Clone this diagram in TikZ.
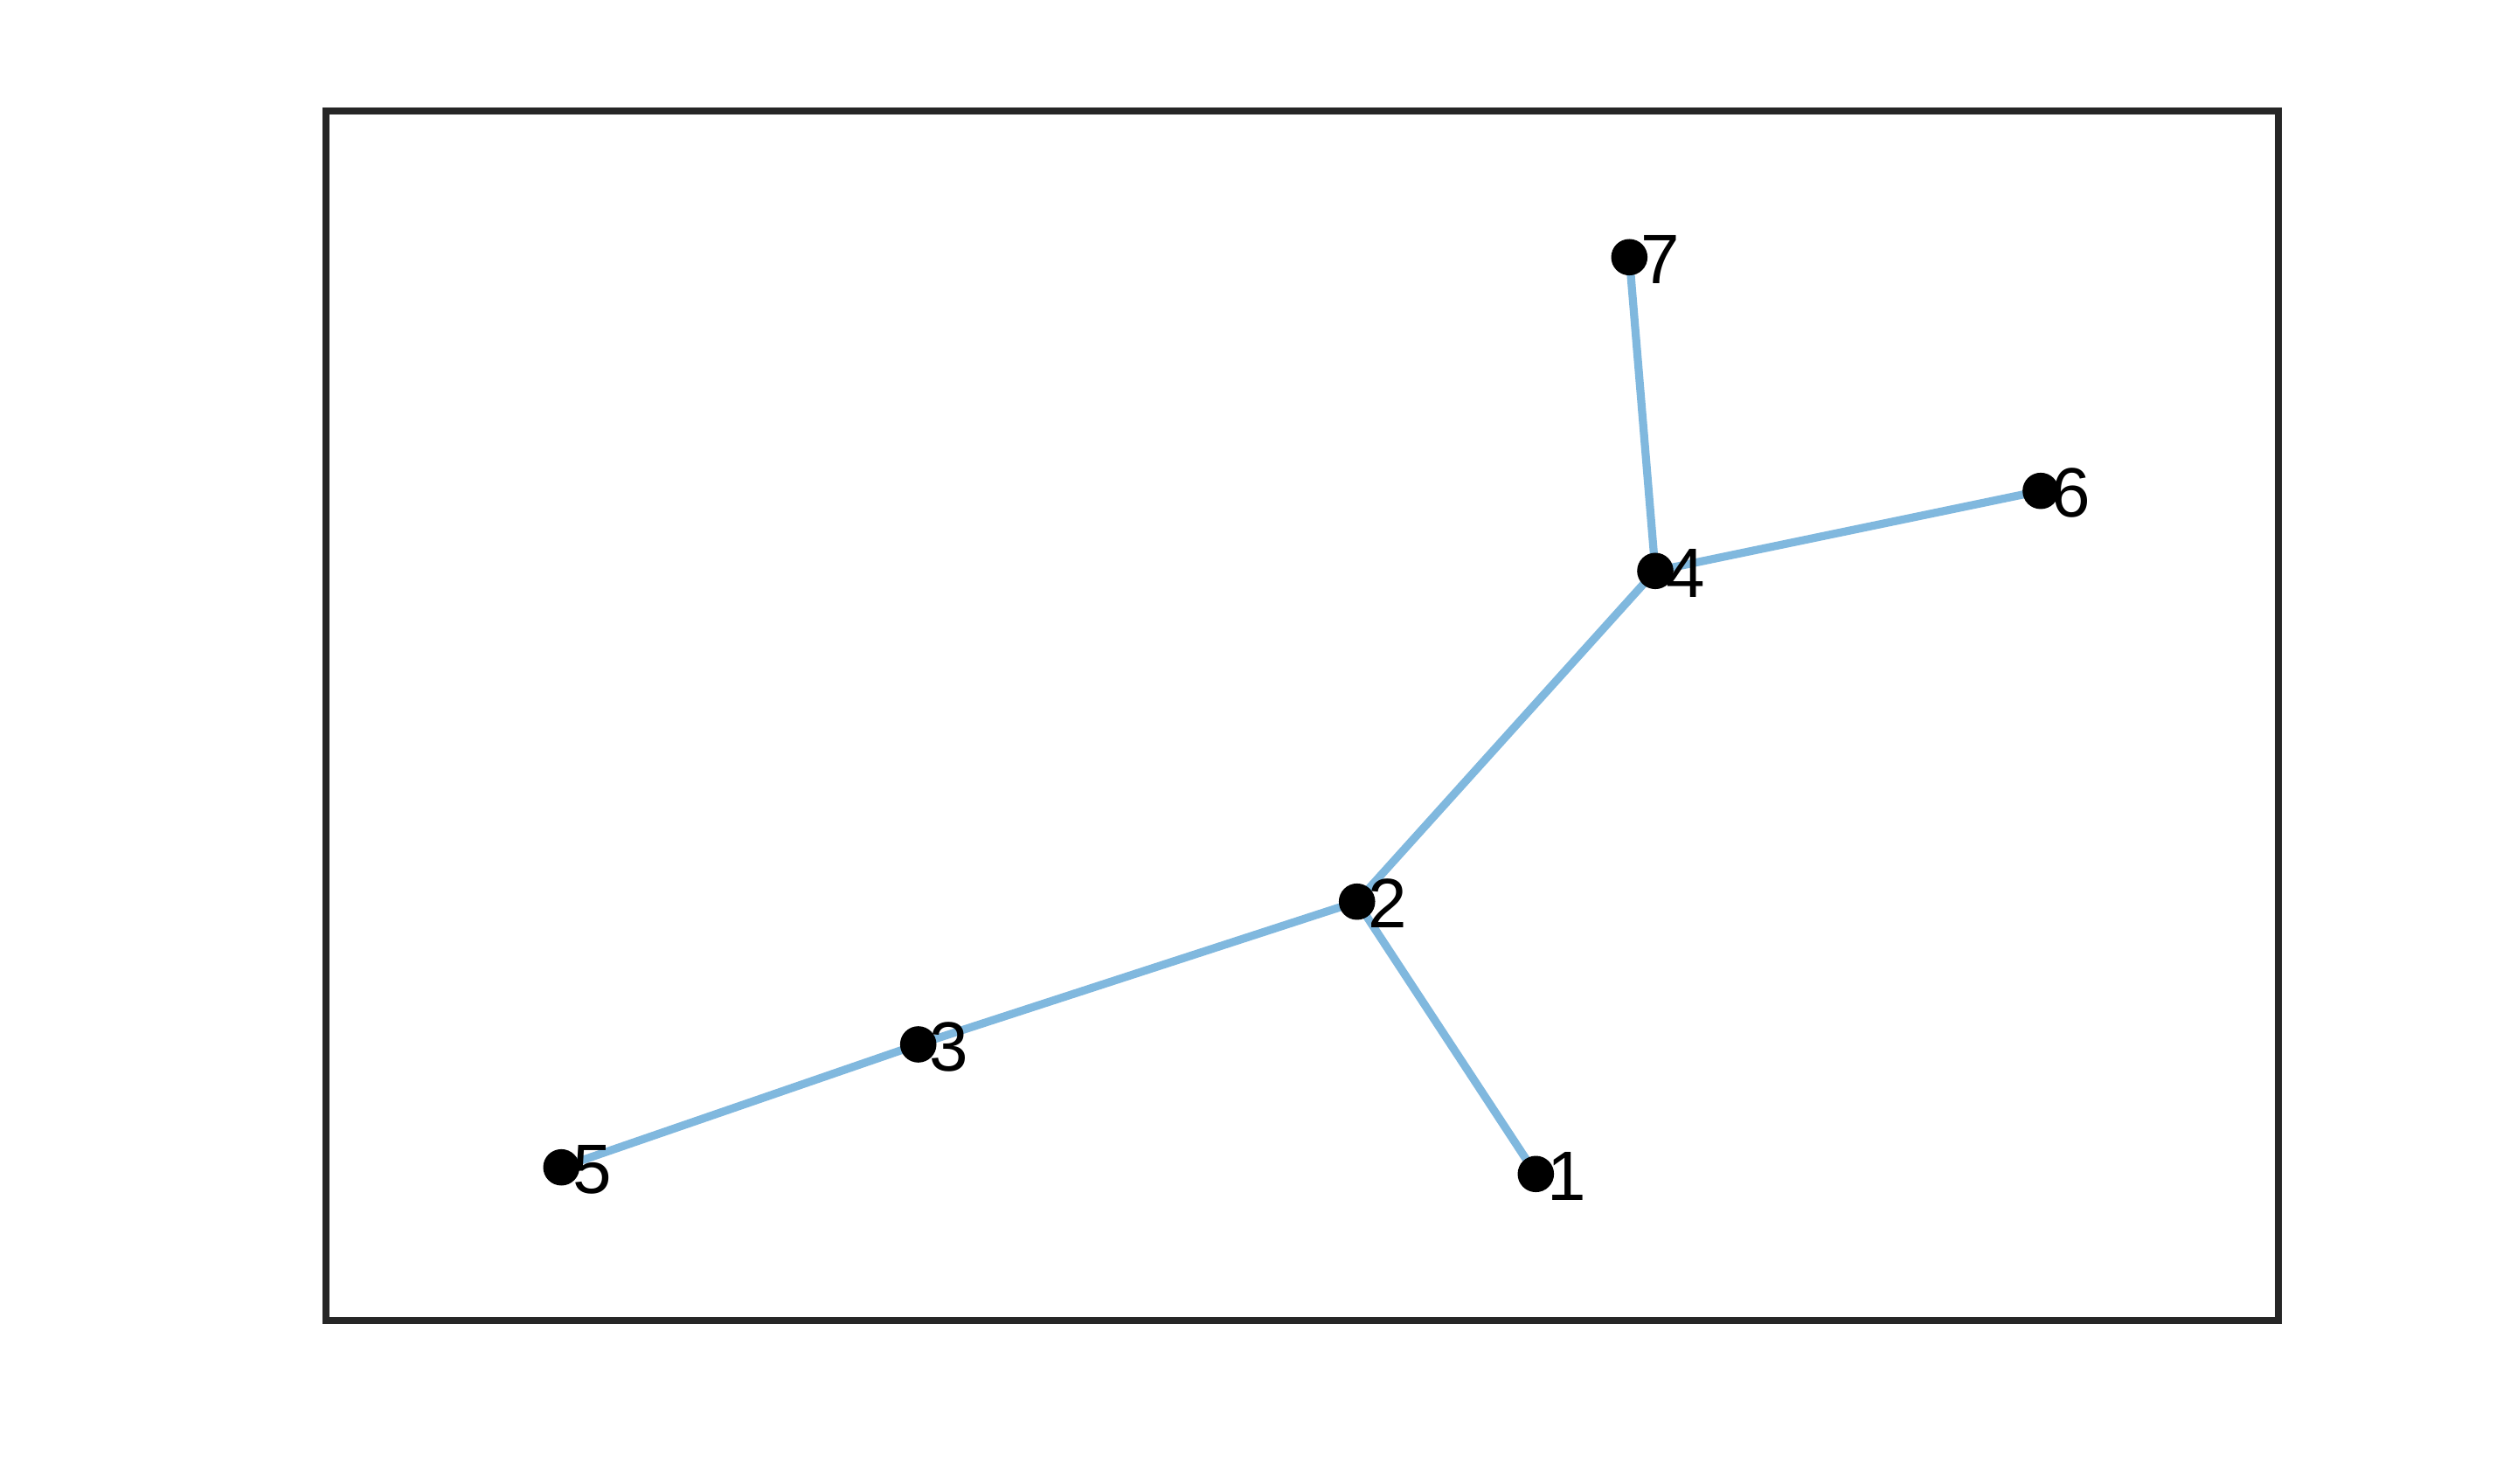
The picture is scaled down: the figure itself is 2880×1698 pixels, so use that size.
\documentclass[tikz,border=0pt]{standalone}
\usepackage{fontspec}
\setmainfont{Liberation Sans}
\definecolor{edgeblue}{HTML}{80B8DE}
\definecolor{axisgray}{HTML}{262626}
\begin{document}
\begin{tikzpicture}[x=0.25pt,y=-0.25pt,
  vtx/.style={circle,fill=black,inner sep=0pt,outer sep=0pt,minimum size=10.4pt},
  edge/.style={draw=edgeblue,line width=2.3pt},
  lbl/.style={anchor=base west,inner sep=0pt,font=\fontsize{20}{24}\selectfont},
  frame/.style={draw=axisgray,line width=2pt}]
\useasboundingbox (0,0) rectangle (2880,1698);
\fill[white] (0,0) rectangle (2880,1698);
\node[frame,rectangle,inner sep=0pt,outer sep=0pt,minimum width=558.35pt,minimum height=345.95pt,anchor=north west] (axes) at (373.3,127.5) {};
\coordinate (p1) at (1757.3,1343.3);
\coordinate (p2) at (1552.7,1031.7);
\coordinate (p3) at (1050.7,1195);
\coordinate (p4) at (1894,653.3);
\coordinate (p5) at (642.3,1335.7);
\coordinate (p6) at (2335,561.7);
\coordinate (p7) at (1864.3,294.3);
\draw[edge] (p7) -- (p4);
\draw[edge] (p4) -- (p6);
\draw[edge] (p4) -- (p2);
\draw[edge] (p2) -- (p3);
\draw[edge] (p2) -- (p1);
\draw[edge] (p3) -- (p5);
\node[vtx] (n1) at (p1) {};
\node[vtx] (n2) at (p2) {};
\node[vtx] (n3) at (p3) {};
\node[vtx] (n4) at (p4) {};
\node[vtx] (n5) at (p5) {};
\node[vtx] (n6) at (p6) {};
\node[vtx] (n7) at (p7) {};
\node[lbl] (t1) at (1769.3,1373.3) {1};
\node[lbl] (t2) at (1564.7,1061.7) {2};
\node[lbl] (t3) at (1062.7,1225) {3};
\node[lbl] (t4) at (1906,683.3) {4};
\node[lbl] (t5) at (654.3,1365.7) {5};
\node[lbl] (t6) at (2347,591.7) {6};
\node[lbl] (t7) at (1876.3,324.3) {7};
\end{tikzpicture}
\end{document}
